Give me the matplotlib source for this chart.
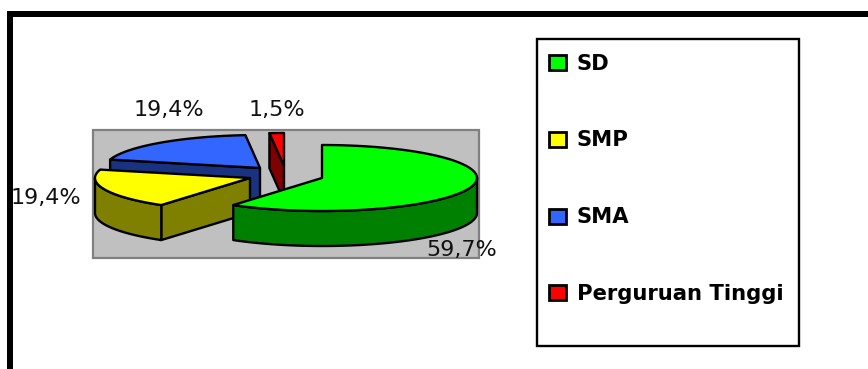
import numpy as np
import matplotlib
matplotlib.use('Agg')
import matplotlib.pyplot as plt
from matplotlib.patches import Polygon, Rectangle

# Education level shares (percent)
categories = ['SD', 'SMP', 'SMA', 'Perguruan Tinggi']
values = [59.7, 19.4, 19.4, 1.5]
top_colors = ['#00FF00', '#FFFF00', '#3366FF', '#FF0000']
side_colors = ['#008000', '#808000', '#1A3380', '#800000']

# Pie geometry in pixels
rx, ry, depth = 155, 33, 35
centers = [(322, 178), (250, 178), (260, 168), (284, 166)]
label_pos = [(462, 250), (46, 198), (169, 110), (277, 110)]
legend_y = [62.5, 139.5, 216, 292.5]
lw = 1.7

plt.rcParams['font.family'] = ['DejaVu Sans']

fig = plt.figure(figsize=(8.68, 3.69), dpi=100)
ax = fig.add_axes([0, 0, 1, 1])
ax.set_xlim(0, 868)
ax.set_ylim(369, 0)
ax.axis('off')

# Heavy frame along the top and left
ax.add_patch(Rectangle((7, 11), 861, 6, fc='black', ec='none'))
ax.add_patch(Rectangle((7, 11), 6, 358, fc='black', ec='none'))

# Grey plot area
ax.add_patch(Rectangle((93, 130), 386, 128, fc='#C0C0C0', ec='#808080', lw=1.6))


def arc(c, a1, a2, dy=0):
    # Angles in degrees, clockwise from 12 o'clock
    t = np.radians(np.linspace(a1, a2, 120))
    return np.column_stack([c[0] + rx * np.sin(t), c[1] - ry * np.cos(t) + dy])


def poly(pts, color):
    ax.add_patch(Polygon(pts, closed=True, fc=color, ec='black', lw=lw, joinstyle='round'))


edges = np.concatenate([[0], np.cumsum(values)]) * 3.6

# Back slices first so the front ones overlap them
for i in [3, 2, 1, 0]:
    c = centers[i]
    a1, a2 = edges[i], edges[i + 1]
    # Inner cut face on the left-hand slices
    if i > 0:
        tip = arc(c, a1, a1)[0]
        poly([tip, c, (c[0], c[1] + depth), (tip[0], tip[1] + depth)], side_colors[i])
    # Outer wall, only where the rim faces the viewer
    w1, w2 = max(a1, 90), min(a2, 270)
    if w1 < w2:
        poly(np.vstack([arc(c, w1, w2), arc(c, w1, w2, depth)[::-1]]), side_colors[i])
    poly(np.vstack([[c], arc(c, a1, a2)]), top_colors[i])

# Percent labels
for v, (x, y) in zip(values, label_pos):
    ax.text(x, y, f'{v:.1f}%'.replace('.', ','), ha='center', va='center',
            fontsize=16, color='#111111')

# Legend
ax.add_patch(Rectangle((537, 39), 262, 307, fc='white', ec='black', lw=lw))
for name, color, y in zip(categories, top_colors, legend_y):
    ax.add_patch(Rectangle((548.5, y - 7.5), 17, 15, fc=color, ec='black', lw=2))
    ax.text(577, y + 1, name, ha='left', va='center', fontsize=15.2,
            fontweight='bold', color='black')

fig.savefig('out.png', dpi=100)
